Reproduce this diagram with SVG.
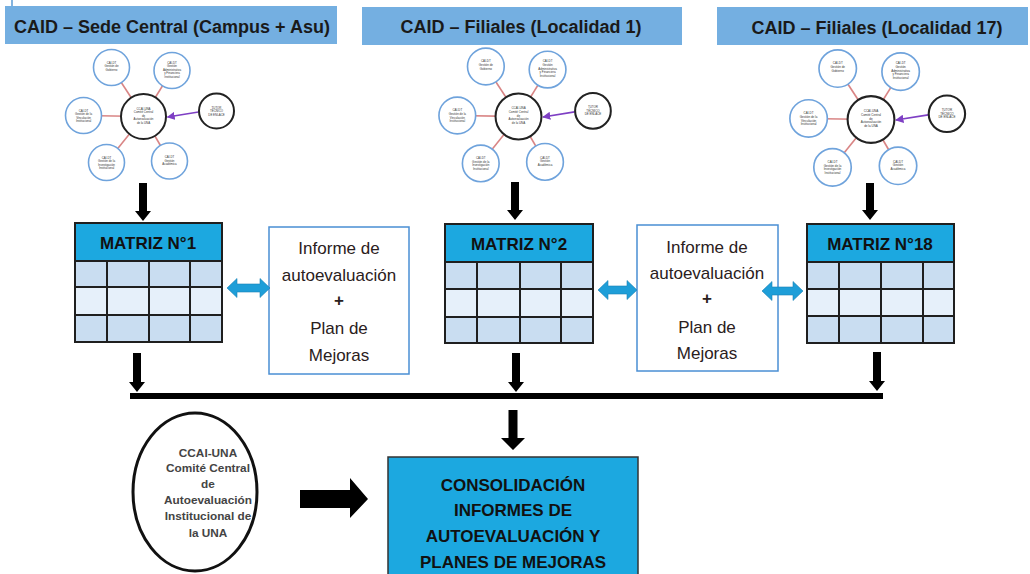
<svg xmlns="http://www.w3.org/2000/svg" width="1030" height="574" viewBox="0 0 1030 574">
<style>
.hdr{fill:#74AFE1}
.htxt{font-family:"Liberation Sans",Arial,sans-serif;font-weight:bold;font-size:18px;fill:#1a1a1a;text-anchor:middle}
.mh{fill:#1CA8E0}
.r1{fill:#C9DDF1}
.r2{fill:#E6F0FA}
.grid{stroke:#1f1f1f;stroke-width:2;fill:none}
.mtxt{font-family:"Liberation Sans",Arial,sans-serif;font-weight:bold;font-size:17px;fill:#111;text-anchor:middle}
.ibox{fill:#fff;stroke:#4A8FD4;stroke-width:1.5}
.itxt{font-family:"Liberation Sans",Arial,sans-serif;font-size:17px;fill:#2a2020;text-anchor:middle}
.blk{fill:#000}
.dbl{fill:#1E9ED8;stroke:#1780B5;stroke-width:0.6}
.ctxt{font-family:"Liberation Sans",Arial,sans-serif;font-weight:bold;font-size:17px;fill:#111;text-anchor:middle}
.etxt{font-family:"Liberation Sans",Arial,sans-serif;font-weight:bold;font-size:11.8px;fill:#444;text-anchor:middle}
.tiny{font-family:"Liberation Sans",Arial,sans-serif;font-size:2.9px;fill:#333;text-anchor:middle}
.sat{fill:#fff;stroke:#6FA3DC;stroke-width:1.6}
.cen{fill:#fff;stroke:#222;stroke-width:2}
.pink{stroke:#D98585;stroke-width:1.6}
.purp{stroke:#7E3FC4;stroke-width:1.6}
</style>
<defs>
<marker id="pa" viewBox="0 0 10 10" refX="9" refY="5" markerWidth="5" markerHeight="5" orient="auto">
<path d="M0,0 L10,5 L0,10 Z" fill="#7E3FC4"/>
</marker>
<g id="cl">
<line class="pink" x1="0" y1="0" x2="-32" y2="-49"/>
<line class="pink" x1="0" y1="0" x2="28.5" y2="-46"/>
<line class="pink" x1="0" y1="0" x2="-60" y2="-1"/>
<line class="pink" x1="0" y1="0" x2="-37" y2="46"/>
<line class="pink" x1="0" y1="0" x2="26" y2="44.5"/>
<line class="purp" x1="55" y1="-4.5" x2="24" y2="0.5" marker-end="url(#pa)"/>
<circle class="sat" cx="-32" cy="-49" r="18"/>
<circle class="sat" cx="28.5" cy="-46" r="18"/>
<circle class="sat" cx="-60" cy="-1" r="18"/>
<circle class="sat" cx="-37" cy="46" r="18"/>
<circle class="sat" cx="26" cy="44.5" r="18"/>
<circle class="cen" cx="73" cy="-5.5" r="17.5"/>
<circle class="cen" cx="0" cy="0" r="22.5"/>
<text class="tiny" x="0" y="-7">CCAI-UNA</text>
<text class="tiny" x="0" y="-3.5">Comité Central</text>
<text class="tiny" x="0" y="0">de</text>
<text class="tiny" x="0" y="3.5">Autoevaluación</text>
<text class="tiny" x="0" y="7">de la UNA</text>
<text class="tiny" x="73" y="-8">TUTOR</text>
<text class="tiny" x="73" y="-4.5">TÉCNICO</text>
<text class="tiny" x="73" y="-1">DE ENLACE</text>
<text class="tiny" x="-32" y="-53">CAI-DT</text>
<text class="tiny" x="-32" y="-49.5">Gestión de</text>
<text class="tiny" x="-32" y="-46">Gobierno</text>
<text class="tiny" x="28.5" y="-53">CAI-DT</text>
<text class="tiny" x="28.5" y="-49.5">Gestión</text>
<text class="tiny" x="28.5" y="-46">Administrativa</text>
<text class="tiny" x="28.5" y="-42.5">y Financiera</text>
<text class="tiny" x="28.5" y="-39">Institucional</text>
<text class="tiny" x="-60" y="-5">CAI-DT</text>
<text class="tiny" x="-60" y="-1.5">Gestión de la</text>
<text class="tiny" x="-60" y="2">Vinculación</text>
<text class="tiny" x="-60" y="5.5">Institucional</text>
<text class="tiny" x="-37" y="42">CAI-DT</text>
<text class="tiny" x="-37" y="45.5">Gestión de la</text>
<text class="tiny" x="-37" y="49">Investigación</text>
<text class="tiny" x="-37" y="52.5">Institucional</text>
<text class="tiny" x="26" y="41.5">CAI-DT</text>
<text class="tiny" x="26" y="45">Gestión</text>
<text class="tiny" x="26" y="48.5">Académica</text>
</g>
</defs>
<rect width="1030" height="574" fill="#fff"/>
<line x1="12" y1="0" x2="12" y2="6" stroke="#5B9BD5" stroke-width="1.5"/>

<g id="header1"><rect class="hdr" x="5" y="6" width="332" height="38"/><text class="htxt" x="172" y="33">CAID – Sede Central (Campus + Asu)</text></g>
<g id="header2"><rect class="hdr" x="362" y="7" width="320" height="38"/><text class="htxt" x="521" y="33">CAID – Filiales (Localidad 1)</text></g>
<g id="header3"><rect class="hdr" x="717" y="7" width="311" height="38"/><text class="htxt" x="877" y="34">CAID – Filiales (Localidad 17)</text></g>

<g id="cluster1"><use href="#cl" transform="translate(143.5,116.5)"/></g>
<g id="cluster2"><use href="#cl" transform="translate(518.5,116.5) scale(1.02)"/></g>
<g id="cluster3"><use href="#cl" transform="translate(871,119.5) scale(1.04)"/></g>

<g id="matriz1">
<rect class="mh" x="75" y="223" width="147" height="38"/>
<rect class="r1" x="75" y="261" width="147" height="26"/>
<rect class="r2" x="75" y="287" width="147" height="28"/>
<rect class="r1" x="75" y="315" width="147" height="27"/>
<path class="grid" d="M75,223 H222 V342 H75 Z M75,261 H222 M75,287 H222 M75,315 H222 M107,261 V342 M149,261 V342 M190,261 V342"/>
<text class="mtxt" x="148" y="249">MATRIZ  N°1</text>
</g>
<g id="matriz2">
<rect class="mh" x="445" y="224" width="148" height="38"/>
<rect class="r1" x="445" y="262" width="148" height="27"/>
<rect class="r2" x="445" y="289" width="148" height="28"/>
<rect class="r1" x="445" y="317" width="148" height="26"/>
<path class="grid" d="M445,224 H593 V343 H445 Z M445,262 H593 M445,289 H593 M445,317 H593 M477,262 V343 M520,262 V343 M561,262 V343"/>
<text class="mtxt" x="519" y="250">MATRIZ N°2</text>
</g>
<g id="matriz18">
<rect class="mh" x="807" y="224" width="147" height="38"/>
<rect class="r1" x="807" y="262" width="147" height="27"/>
<rect class="r2" x="807" y="289" width="147" height="27"/>
<rect class="r1" x="807" y="316" width="147" height="27"/>
<path class="grid" d="M807,224 H954 V343 H807 Z M807,262 H954 M807,289 H954 M807,316 H954 M839,262 V343 M881,262 V343 M923,262 V343"/>
<text class="mtxt" x="880" y="250">MATRIZ N°18</text>
</g>

<g id="informe1">
<rect class="ibox" x="269" y="227" width="140" height="147"/>
<text class="itxt" x="339" y="254">Informe de</text>
<text class="itxt" x="339" y="281">autoevaluación</text>
<text class="itxt" x="339" y="306" font-weight="bold">+</text>
<text class="itxt" x="339" y="334">Plan de</text>
<text class="itxt" x="339" y="361">Mejoras</text>
</g>
<g id="informe2">
<rect class="ibox" x="637" y="225" width="141" height="146"/>
<text class="itxt" x="707" y="253">Informe de</text>
<text class="itxt" x="707" y="279">autoevaluación</text>
<text class="itxt" x="707" y="304" font-weight="bold">+</text>
<text class="itxt" x="707" y="333">Plan de</text>
<text class="itxt" x="707" y="359">Mejoras</text>
</g>

<g id="ccai">
<ellipse cx="195" cy="492" rx="62" ry="79" fill="#fff" stroke="#111" stroke-width="3"/>
<text class="etxt" x="208" y="456.5">CCAI-UNA</text>
<text class="etxt" x="208" y="471.5">Comité Central</text>
<text class="etxt" x="208" y="487.5">de</text>
<text class="etxt" x="208" y="503.5">Autoevaluación</text>
<text class="etxt" x="208" y="519.5">Institucional de</text>
<text class="etxt" x="208" y="536.5">la UNA</text>
</g>

<g id="consolidacion">
<rect x="388" y="457" width="250" height="125" fill="#1CA8E0" stroke="#333" stroke-width="1.5"/>
<text class="ctxt" x="513" y="491">CONSOLIDACIÓN</text>
<text class="ctxt" x="513" y="516">INFORMES DE</text>
<text class="ctxt" x="513" y="542">AUTOEVALUACIÓN Y</text>
<text class="ctxt" x="513" y="568">PLANES DE MEJORAS</text>
</g>

<g id="connectors">
<path class="blk" d="M139,183 L147,183 L147,211 L151,211 L143,221 L135,211 L139,211 Z"/>
<path class="blk" d="M511,182 L519,182 L519,210 L523,210 L515,220 L507,210 L511,210 Z"/>
<path class="blk" d="M866,183 L874,183 L874,210 L878,210 L870,220 L862,210 L866,210 Z"/>
<path class="blk" d="M133,353 L141,353 L141,382 L145,382 L137,392 L129,382 L133,382 Z"/>
<path class="blk" d="M512,353 L520,353 L520,382 L524,382 L516,392 L508,382 L512,382 Z"/>
<path class="blk" d="M873,352 L881,352 L881,381 L885,381 L877,391 L869,381 L873,381 Z"/>
<rect class="blk" x="130" y="393" width="753" height="6"/>
<path class="blk" d="M508.5,410 L517.5,410 L517.5,438 L525,438 L513,450 L501,438 L508.5,438 Z"/>
<path class="blk" d="M300,490 L350,490 L350,478 L368,499 L350,518 L350,508 L300,508 Z"/>
<path class="dbl" d="M227,288 L237,278.5 L237,284 L260,284 L260,278.5 L270,288 L260,297.5 L260,292 L237,292 L237,297.5 Z"/>
<path class="dbl" d="M598,290 L608,280.5 L608,286 L627,286 L627,280.5 L637,290 L627,299.5 L627,294 L608,294 L608,299.5 Z"/>
<path class="dbl" d="M762,291 L772,281.5 L772,287 L793,287 L793,281.5 L803,291 L793,300.5 L793,295 L772,295 L772,300.5 Z"/>
</g>
</svg>
